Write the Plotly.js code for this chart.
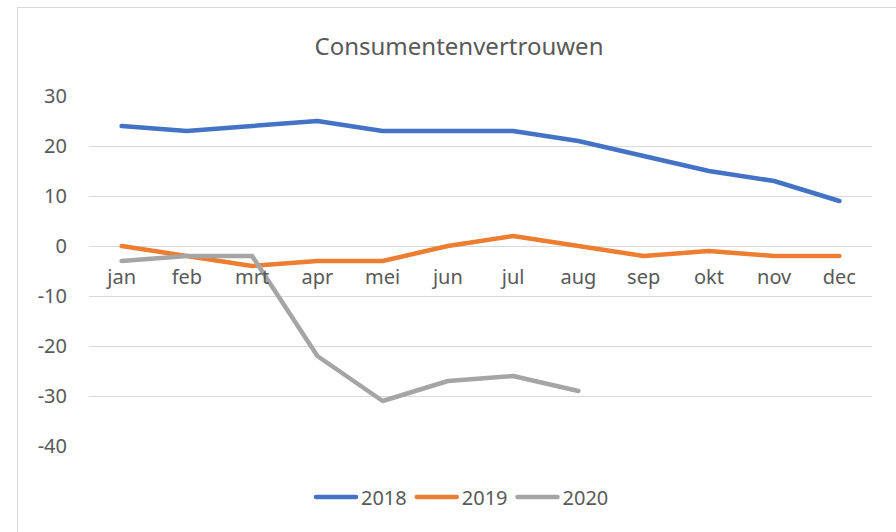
<!DOCTYPE html>
<html>
<head>
<meta charset="utf-8">
<script src="https://cdn.plot.ly/plotly-3.0.1.min.js"></script>
<style>
  html, body { margin: 0; padding: 0; background: #fff; overflow: hidden; }
  #chart { position: absolute; left: 0; top: 0; width: 896px; height: 532px; }
  #frame { position: absolute; left: 17px; top: 7px; width: 1000px; height: 1000px;
           border: 1px solid #d9d9d9; pointer-events: none; box-sizing: border-box; }
  #chart .scatterlayer path.js-line, #chart .legend path.js-line { stroke-linecap: round; stroke-linejoin: round; }
</style>
</head>
<body>
<div id="chart"></div>
<div id="frame"></div>
<script>
const months = ["jan","feb","mrt","apr","mei","jun","jul","aug","sep","okt","nov","dec"];
const v2018 = [24, 23, 24, 25, 23, 23, 23, 21, 18, 15, 13, 9];
const v2019 = [0, -2, -4, -3, -3, 0, 2, 0, -2, -1, -2, -2];
const v2020 = [-3, -2, -2, -22, -31, -27, -26, -29];
const yTickVals = [30, 20, 10, 0, -10, -20, -30, -40];
const yTickText = ["30", "20", "10", "0", "-10", "-20", "-30", "-40"];

const font = "Noto Sans, Open Sans, sans-serif";
const gray = "#595959";

function series(name, vals, color) {
  return {
    type: "scatter", mode: "lines", name: name,
    x: months.slice(0, vals.length), y: vals,
    line: { color: color, width: 4.5, shape: "linear" },
    hoverinfo: "skip"
  };
}

const data = [
  series("2018", v2018, "#4472C4"),
  series("2019", v2019, "#ED7D31"),
  series("2020", v2020, "#A5A5A5")
];

const yMin = -40, yMax = 30;
const layout = {
  width: 896, height: 532,
  margin: { l: 89, r: 24, t: 96, b: 86 },
  paper_bgcolor: "#ffffff", plot_bgcolor: "#ffffff",
  showlegend: true,
  title: {
    text: "Consumentenvertrouwen",
    font: { family: font, size: 24, color: gray },
    x: 459 / 896, xref: "container", xanchor: "center",
    y: 1 - 47 / 532, yref: "container", yanchor: "middle"
  },
  xaxis: {
    type: "category", categoryorder: "array", categoryarray: months,
    range: [-0.5, 11.5],
    anchor: "free", position: (0 - yMin) / (yMax - yMin),
    showgrid: false, zeroline: false, showline: false,
    ticks: "outside", ticklen: 13, tickcolor: "rgba(0,0,0,0)",
    tickfont: { family: font, size: 20, color: gray }
  },
  yaxis: {
    range: [yMin, yMax],
    tickvals: yTickVals, ticktext: yTickText,
    showgrid: true, gridcolor: "#d9d9d9", gridwidth: 1,
    zeroline: false, showline: false,
    ticks: "outside", ticklen: 17, tickcolor: "rgba(0,0,0,0)",
    tickfont: { family: font, size: 20, color: gray }
  },
  legend: {
    orientation: "h",
    x: 0.477, xanchor: "center",
    y: (446 - 497) / 350, yanchor: "middle",
    font: { family: font, size: 20, color: gray },
    itemwidth: 40
  }
};

Plotly.newPlot("chart", data, layout, { displayModeBar: false, staticPlot: true });
</script>
</body>
</html>
